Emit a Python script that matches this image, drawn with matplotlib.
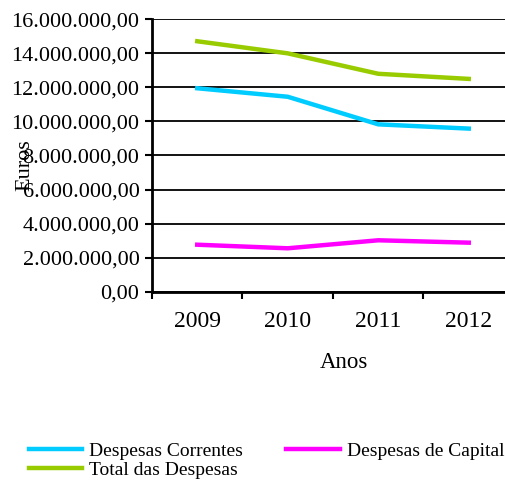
import matplotlib.pyplot as plt
from matplotlib.ticker import FuncFormatter, FixedLocator

anos = ['2009', '2010', '2011', '2012']
correntes = [11950000, 11450000, 9830000, 9580000]
capital = [2760000, 2550000, 3020000, 2880000]
total = [14710000, 14000000, 12800000, 12500000]

plt.rcParams['font.family'] = ['Liberation Serif', 'DejaVu Serif']


def pt_format(v, pos):
    s = '{:,.2f}'.format(v)
    return s.replace(',', 'X').replace('.', ',').replace('X', '.')


fig = plt.figure(figsize=(5.06, 4.80), dpi=100)
fig.patch.set_facecolor('white')
ax = fig.add_axes([152 / 506, 188.3 / 480, 362 / 506, 272.4 / 480])

x = list(range(len(anos)))
l1, = ax.plot(x, correntes, color='#00ccff', lw=3.2, label='Despesas Correntes')
l2, = ax.plot(x, capital, color='#ff00ff', lw=3.2, label='Despesas de Capital')
l3, = ax.plot(x, total, color='#99cc00', lw=3.2, label='Total das Despesas')

ax.set_xlim(-0.5, len(anos) - 0.5)
ax.set_ylim(0, 16000000)
ax.set_yticks(range(0, 16000001, 2000000))
ax.yaxis.set_major_formatter(FuncFormatter(pt_format))
ax.grid(axis='y', color='black', lw=1.3)
ax.set_axisbelow(True)

ax.xaxis.set_major_locator(FixedLocator([i - 0.5 for i in range(len(anos) + 1)]))
ax.xaxis.set_minor_locator(FixedLocator(x))
ax.set_xticklabels([])
ax.set_xticklabels(anos, minor=True)
ax.tick_params(axis='x', which='major', length=5, width=1.5, direction='out')
ax.tick_params(axis='x', which='minor', length=0, pad=14, labelsize=17)
ax.tick_params(axis='y', length=5, width=1.5, direction='out', labelsize=16, pad=4)

for side in ['top', 'right']:
    ax.spines[side].set_visible(False)
for side in ['left', 'bottom']:
    ax.spines[side].set_linewidth(2)

ax.set_xlabel('Anos', fontsize=16.5)
ax.xaxis.set_label_coords((344 - 152) / 362, -(362 - 291.7) / 272.4)
ax.xaxis.label.set_va('center')
fig.text(25 / 506, 1 - 165 / 480, 'Euros', rotation=90, ha='center', va='center', fontsize=16)

fig.legend(handles=[l1, l3, l2], loc='upper left', bbox_to_anchor=(29 / 506, 1 - 442 / 480),
           ncol=2, frameon=False, fontsize=14, handlelength=2.75, handletextpad=0.36,
           columnspacing=2.2, labelspacing=0.1, borderaxespad=0, borderpad=0)

fig.savefig('out.png', dpi=100, facecolor='white')
